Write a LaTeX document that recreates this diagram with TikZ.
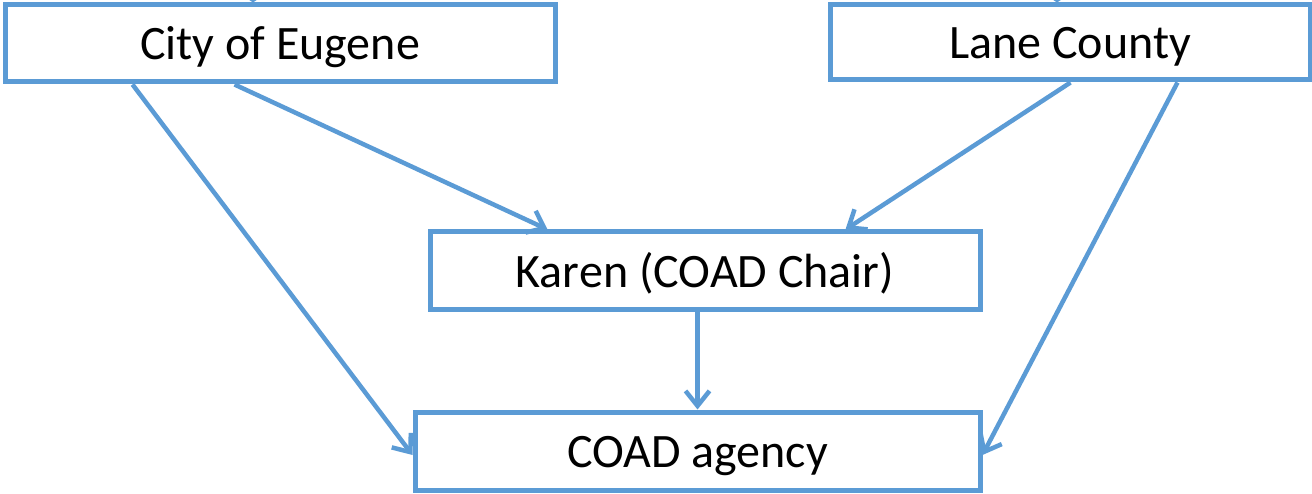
\documentclass[tikz,border=0pt]{standalone}
\usepackage{fontspec}
\setmainfont{Carlito}
\usetikzlibrary{arrows.meta}
\definecolor{boxblue}{HTML}{5B9BD5}
\tikzset{
  orgbox/.style={draw=boxblue, line width=5pt, fill=white, rectangle, inner sep=0pt,
    text height=40pt, text depth=7pt,
    font=\fontsize{48}{56}\selectfont},
  link/.style={draw=boxblue, line width=4.5pt,
    -{Straight Barb[length=15pt,width=24pt,line width=4.5pt]}},
  stublink/.style={draw=boxblue, line width=4.5pt,
    -{Straight Barb[length=12pt,width=36pt,line width=4.5pt]}}
}
\begin{document}
\begin{tikzpicture}[x=1pt,y=-1pt]
\useasboundingbox (0,0) rectangle (1312,494);
\clip (0,0) rectangle (1312,494);
\node[orgbox, minimum width=550pt, minimum height=77pt] (city) at (280,43.5) {City of Eugene};
\node[orgbox, minimum width=480pt, minimum height=75pt] (lane) at (1070,42.5) {Lane County};
\node[orgbox, minimum width=550pt, minimum height=78pt] (karen) at (705,271) {Karen (COAD Chair)};
\node[orgbox, minimum width=565pt, minimum height=78pt] (coad) at (697.5,451) {COAD agency};
\coordinate (cityin) at (253,-80);
\coordinate (lanein) at (1057,-80);
\draw[stublink] (cityin) -- (cityin |- city.north);
\draw[stublink] (lanein) -- (lanein |- lane.north);
\draw[link] ([xshift=130pt]city.south west) -- ([yshift=-4pt]coad.west);
\draw[link] ([xshift=232pt]city.south west) -- ([xshift=120pt]karen.north west);
\draw[link] ([xshift=243pt]lane.south west) -- ([xshift=418pt]karen.north west);
\draw[link] ([xshift=350pt]lane.south west) -- ([yshift=-4pt]coad.east);
\draw[link] ([xshift=-7.5pt]karen.south) -- (coad.north);
\end{tikzpicture}
\end{document}
